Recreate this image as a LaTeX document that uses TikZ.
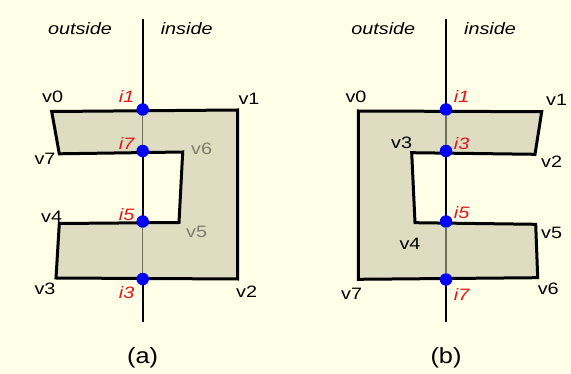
\documentclass[tikz,border=0pt]{standalone}
\usepackage{fontspec}
\setmainfont{Liberation Sans}
\usepackage{graphicx}
\definecolor{bgc}{HTML}{FFFEE6}
\definecolor{fillc}{HTML}{DEDDC2}
\definecolor{redc}{HTML}{E3151A}
\definecolor{grayc}{HTML}{7E7E6E}
\definecolor{axisin}{HTML}{6F6F60}
\newcommand{\widetxt}[1]{\scalebox{1.2}[1]{#1}}
\newcommand{\capwide}[1]{\scalebox{1.15}[1]{#1}}
\tikzset{
  lbl/.style={inner sep=0pt, font=\fontsize{16.5}{19}\selectfont},
  ilbl/.style={lbl, text=redc, font=\fontsize{16.5}{19}\selectfont\itshape},
  glbl/.style={lbl, text=grayc},
  head/.style={lbl, font=\fontsize{16.5}{19}\selectfont\itshape},
  caplbl/.style={inner sep=0pt, font=\fontsize{22}{24}\selectfont},
  dot/.style={circle, fill=blue, inner sep=0pt, minimum size=12.5pt},
  poly/.style={fill=fillc, draw=black, line width=3pt, line join=miter},
  axout/.style={draw=black, line width=2.2pt},
  axin/.style={draw=axisin, line width=1.3pt}
}
\begin{document}
\begin{tikzpicture}[x=1pt,y=-1pt]
\fill[bgc] (0,0) rectangle (571,374);
\useasboundingbox (0,0) rectangle (571,374);
% ---------- panel (a) ----------
\coordinate (at) at (142.7,19);
\coordinate (ab) at (142.7,322);
\coordinate (a0) at (51.7,111.5);
\coordinate (a1) at (237.7,110);
\coordinate (a2) at (237.7,279);
\coordinate (a3) at (56,278);
\coordinate (a4) at (59.3,223.5);
\coordinate (a5) at (179,222.5);
\coordinate (a6) at (182.7,152);
\coordinate (a7) at (59.3,153.8);
\draw[axout] (at) -- (ab);
\path[poly] (a0) -- (a1) -- (a2) -- (a3) -- (a4) -- (a5) -- (a6) -- (a7) -- cycle;
\node[dot] (ai1) at (142.7,109.5) {};
\node[dot] (ai7) at (142.7,151) {};
\node[dot] (ai5) at (142.7,221.5) {};
\node[dot] (ai3) at (142.7,279) {};
\draw[axin] (ai1) -- (ai7);
\draw[axin] (ai5) -- (ai3);
\node[head] (aout) at (80,29) {\widetxt{outside}};
\node[head] (ain) at (186.7,29) {\widetxt{inside}};
\node[lbl] (la0) at (52.7,97) {\widetxt{v0}};
\node[lbl] (la1) at (249,99) {\widetxt{v1}};
\node[lbl] (la2) at (246.7,291.7) {\widetxt{v2}};
\node[lbl] (la3) at (45,289) {\widetxt{v3}};
\node[lbl] (la4) at (51.7,216.7) {\widetxt{v4}};
\node[glbl] (la5) at (196.7,231.7) {\widetxt{v5}};
\node[glbl] (la6) at (201.7,149) {\widetxt{v6}};
\node[lbl] (la7) at (45,159) {\widetxt{v7}};
\node[ilbl] (lai1) at (126.7,97) {\widetxt{i1}};
\node[ilbl] (lai7) at (126.7,144) {\widetxt{i7}};
\node[ilbl] (lai5) at (126.7,215) {\widetxt{i5}};
\node[ilbl] (lai3) at (126.7,293) {\widetxt{i3}};
\node[caplbl] (capa) at (142.7,358) {\capwide{(a)}};
% ---------- panel (b) ----------
\coordinate (bt) at (446,19);
\coordinate (bb) at (446,322);
\coordinate (b0) at (358.3,111);
\coordinate (b1) at (541.7,111.7);
\coordinate (b2) at (535,154.3);
\coordinate (b3) at (411.7,152.7);
\coordinate (b4) at (415,222.7);
\coordinate (b5) at (535.7,224.3);
\coordinate (b6) at (537.7,277.7);
\coordinate (b7) at (358.3,279.3);
\draw[axout] (bt) -- (bb);
\path[poly] (b0) -- (b1) -- (b2) -- (b3) -- (b4) -- (b5) -- (b6) -- (b7) -- cycle;
\node[dot] (bi1) at (446,109.5) {};
\node[dot] (bi3) at (446,151) {};
\node[dot] (bi5) at (446,221.5) {};
\node[dot] (bi7) at (446,279.5) {};
\draw[axin] (bi1) -- (bi3);
\draw[axin] (bi5) -- (bi7);
\node[head] (bout) at (383.3,29) {\widetxt{outside}};
\node[head] (bin) at (490,29) {\widetxt{inside}};
\node[lbl] (lb0) at (356,96.7) {\widetxt{v0}};
\node[lbl] (lb1) at (556.7,100) {\widetxt{v1}};
\node[lbl] (lb2) at (551.7,161.7) {\widetxt{v2}};
\node[lbl] (lb3) at (401.7,143.3) {\widetxt{v3}};
\node[lbl] (lb4) at (410,244.3) {\widetxt{v4}};
\node[lbl] (lb5) at (551.7,232.7) {\widetxt{v5}};
\node[lbl] (lb6) at (548.3,289.3) {\widetxt{v6}};
\node[lbl] (lb7) at (351.7,294.3) {\widetxt{v7}};
\node[ilbl] (lbi1) at (461.7,96.7) {\widetxt{i1}};
\node[ilbl] (lbi3) at (461.7,143.3) {\widetxt{i3}};
\node[ilbl] (lbi5) at (461.7,212.7) {\widetxt{i5}};
\node[ilbl] (lbi7) at (461.7,295) {\widetxt{i7}};
\node[caplbl] (capb) at (446,358) {\capwide{(b)}};
\end{tikzpicture}
\end{document}
